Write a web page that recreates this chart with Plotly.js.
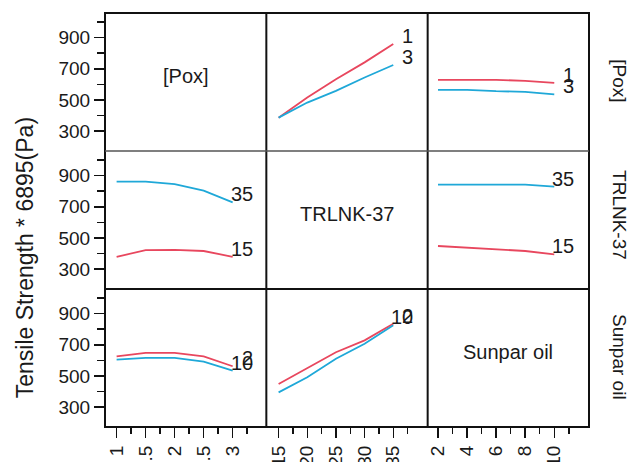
<!DOCTYPE html>
<html>
<head>
<meta charset="utf-8">
<script src="https://cdn.plot.ly/plotly-3.0.1.min.js"></script>
<style>html,body{margin:0;padding:0;background:#fff;}#chart{width:634px;height:462px;}</style>
</head>
<body>
<div id="chart"></div>
<script>
// ---- data ----
const factorNames = ['[Pox]', 'TRLNK-37', 'Sunpar oil'];
const poxLevels = [1, 1.5, 2, 2.5, 3];
const trlnkLevels = [15, 20, 25, 30, 35];
const sunparLevels = [2, 4, 6, 8, 10];
const poxTraceLabels = ['1', '3'];
const trlnkTraceLabels = ['15', '35'];
const sunparTraceLabels = ['2', '10'];
// row 1: traces = [Pox] levels
const pox1_vsTrlnk = [386, 515, 633, 741, 859];
const pox3_vsTrlnk = [386, 483, 558, 644, 724];
const pox1_vsSunpar = [629, 629, 629, 622, 610];
const pox3_vsSunpar = [565, 565, 556, 552, 535];
// row 2: traces = TRLNK-37 levels
const trlnk15_vsPox = [379, 421, 423, 416, 379];
const trlnk35_vsPox = [861, 861, 846, 803, 728];
const trlnk15_vsSunpar = [448, 437, 427, 416, 395];
const trlnk35_vsSunpar = [842, 842, 842, 842, 829];
// row 3: traces = Sunpar oil levels
const sunpar2_vsPox = [626, 648, 648, 626, 562];
const sunpar10_vsPox = [605, 616, 616, 592, 534];
const sunpar2_vsTrlnk = [448, 552, 652, 728, 835];
const sunpar10_vsTrlnk = [394, 491, 610, 706, 825];
// tick labels
const yTickVals = [300, 500, 700, 900];
const yMinorVals = [400, 600, 800, 1000];
const poxTickVals = [1, 1.5, 2, 2.5, 3];
const poxTickText = ['1', '1.5', '2', '2.5', '3'];
const poxMinor = [1.25, 1.75, 2.25, 2.75, 3.25];
const trlnkTickVals = [15, 20, 25, 30, 35];
const trlnkTickText = ['15', '20', '25', '30', '35'];
const trlnkMinor = [17.5, 22.5, 27.5, 32.5, 37.5];
const sunparTickVals = [2, 4, 6, 8, 10];
const sunparTickText = ['2', '4', '6', '8', '10'];
const sunparMinor = [3, 5, 7, 9, 11];

// ---- styling ----
const RED = '#e8475e';
const BLUE = '#1fa8d8';
const FONT = 'Liberation Sans, Arial, sans-serif';
const TXT = '#1a1a1a';

const colX = [poxLevels, trlnkLevels, sunparLevels];
const colRange = [[0.8, 3.58], [12.86, 41.0], [1.29, 12.39]];
const colTicks = [
  [poxTickVals, poxTickText, poxMinor],
  [trlnkTickVals, trlnkTickText, trlnkMinor],
  [sunparTickVals, sunparTickText, sunparMinor]
];
const yRange = [172, 1058];

// cells: [row, col, redSeries, blueSeries, labels]
const cells = [
  [1, 2, pox1_vsTrlnk, pox3_vsTrlnk, poxTraceLabels],
  [1, 3, pox1_vsSunpar, pox3_vsSunpar, poxTraceLabels],
  [2, 1, trlnk15_vsPox, trlnk35_vsPox, trlnkTraceLabels],
  [2, 3, trlnk15_vsSunpar, trlnk35_vsSunpar, trlnkTraceLabels],
  [3, 1, sunpar2_vsPox, sunpar10_vsPox, sunparTraceLabels],
  [3, 2, sunpar2_vsTrlnk, sunpar10_vsTrlnk, sunparTraceLabels]
];

const traces = [];
const annotations = [];
const layout = {
  width: 634, height: 462,
  margin: {l: 105, r: 45, t: 13, b: 35},
  paper_bgcolor: '#fff', plot_bgcolor: '#fff',
  showlegend: false,
  font: {family: FONT, color: TXT, size: 19}
};

function idx(r, c) { return (r - 1) * 3 + c; }

for (let r = 1; r <= 3; r++) {
  for (let c = 1; c <= 3; c++) {
    const i = idx(r, c);
    const sfx = i === 1 ? '' : String(i);
    const xd = [(c - 1) / 3, c / 3];
    const yd = [(3 - r) / 3, (4 - r) / 3];
    const showX = r === 3;
    const showY = c === 1;
    const t = colTicks[c - 1];
    layout['xaxis' + sfx] = {
      domain: xd, anchor: 'y' + sfx, range: colRange[c - 1],
      showgrid: false, zeroline: false, showline: false, automargin: false,
      fixedrange: true,
      tickmode: 'array', tickvals: t[0], ticktext: t[1],
      ticks: showX ? 'outside' : '', showticklabels: showX,
      ticklen: 10, tickwidth: 1.5, tickcolor: '#111', tickangle: -90,
      tickfont: {family: FONT, size: 19, color: TXT},
      minor: showX ? {tickmode: 'array', tickvals: t[2], ticks: 'outside', ticklen: 6, tickwidth: 1.5, tickcolor: '#111', showgrid: false} : {ticks: ''}
    };
    layout['yaxis' + sfx] = {
      domain: yd, anchor: 'x' + sfx, range: yRange,
      showgrid: false, zeroline: false, showline: false, automargin: false,
      fixedrange: true,
      tickmode: 'array', tickvals: yTickVals, ticktext: yTickVals.map(String),
      ticks: showY ? 'outside' : '', showticklabels: showY,
      ticklen: 10, tickwidth: 1.5, tickcolor: '#111',
      tickfont: {family: FONT, size: 19, color: TXT},
      minor: showY ? {tickmode: 'array', tickvals: yMinorVals, ticks: 'outside', ticklen: 7, tickwidth: 1.5, tickcolor: '#111', showgrid: false} : {ticks: ''}
    };
    if (r === c) {
      // empty trace so the diagonal subplot (and its ticks) exists
      traces.push({x: [], y: [], type: 'scatter', mode: 'lines', xaxis: 'x' + sfx, yaxis: 'y' + sfx, hoverinfo: 'skip'});
      annotations.push({
        xref: 'paper', yref: 'paper', x: (xd[0] + xd[1]) / 2, y: (yd[0] + yd[1]) / 2 + 0.015,
        text: factorNames[r - 1], showarrow: false, xanchor: 'center', yanchor: 'middle',
        font: {family: FONT, size: 20, color: TXT}
      });
    }
  }
}

cells.forEach(([r, c, redY, blueY, labs]) => {
  const i = idx(r, c);
  const sfx = i === 1 ? '' : String(i);
  const xs = colX[c - 1];
  const span = xs[xs.length - 1] - xs[0];
  const labX = xs[xs.length - 1] + 0.19 * span;
  [[redY, RED, labs[0]], [blueY, BLUE, labs[1]]].forEach(([ys, col, lab]) => {
    traces.push({
      x: xs, y: ys, type: 'scatter', mode: 'lines',
      xaxis: 'x' + sfx, yaxis: 'y' + sfx,
      line: {color: col, width: 1.8}, hoverinfo: 'skip'
    });
    annotations.push({
      xref: 'x' + sfx, yref: 'y' + sfx, x: labX, y: ys[ys.length - 1],
      text: lab, showarrow: false, xanchor: 'right', yanchor: 'bottom', yshift: -5,
      font: {family: FONT, size: 20, color: TXT}
    });
  });
});

// axis title and side labels
annotations.push({
  xref: 'paper', yref: 'paper', x: -0.165, y: 0.408, text: 'Tensile Strength * 6895(Pa)',
  textangle: -90, showarrow: false, xanchor: 'center', yanchor: 'middle',
  font: {family: FONT, size: 23, color: TXT}
});
const sideY = [0.835, 0.512, 0.169];
factorNames.forEach((n, k) => {
  annotations.push({
    xref: 'paper', yref: 'paper', x: 1.064, y: sideY[k], text: n, textangle: 90,
    showarrow: false, xanchor: 'center', yanchor: 'middle',
    font: {family: FONT, size: 19, color: TXT}
  });
});
layout.annotations = annotations;

// panel borders
layout.shapes = [
  {type: 'rect', xref: 'paper', yref: 'paper', x0: 0, x1: 1, y0: 0, y1: 1, line: {color: '#111', width: 2}},
  {type: 'line', xref: 'paper', yref: 'paper', x0: 1/3, x1: 1/3, y0: 0, y1: 1, line: {color: '#111', width: 2}},
  {type: 'line', xref: 'paper', yref: 'paper', x0: 2/3, x1: 2/3, y0: 0, y1: 1, line: {color: '#111', width: 2}},
  {type: 'line', xref: 'paper', yref: 'paper', x0: 0, x1: 1, y0: 1/3, y1: 1/3, line: {color: '#111', width: 2}},
  {type: 'line', xref: 'paper', yref: 'paper', x0: 0, x1: 1, y0: 2/3, y1: 2/3, line: {color: '#555', width: 1.5}}
];

Plotly.newPlot('chart', traces, layout, {staticPlot: true, displayModeBar: false});
</script>
</body>
</html>
